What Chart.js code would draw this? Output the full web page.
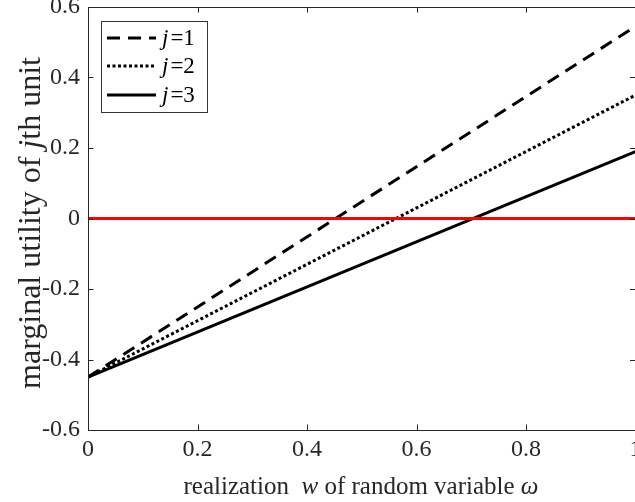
<!DOCTYPE html>
<html><head><meta charset="utf-8">
<script src="https://cdn.jsdelivr.net/npm/chart.js@4"></script>
<style>
html,body{margin:0;padding:0;background:#fff;overflow:hidden;}
#wrap{width:635px;height:502px;overflow:hidden;position:relative;}
#c{position:absolute;left:0;top:0;}
</style></head>
<body><div id="wrap"><canvas id="c" width="640" height="502"></canvas></div>
<script>
const wValues = [0, 1];
const seriesJ1 = [-0.45, 0.545];
const seriesJ2 = [-0.45, 0.35];
const seriesJ3 = [-0.45, 0.19];
const zeroLine = [0, 0];
const seriesNames = ['j=1', 'j=2', 'j=3'];
const xTicks = [0, 0.2, 0.4, 0.6, 0.8, 1];
const yTicks = [-0.6, -0.4, -0.2, 0, 0.2, 0.4, 0.6];

const pts = (arr) => arr.map((v, i) => ({x: wValues[i], y: v}));
const AX = '#262626';
const FAM = "'Liberation Serif', 'Times New Roman', serif";
Chart.defaults.font.family = FAM;
Chart.defaults.font.size = 24;
Chart.defaults.color = AX;

const boxPlugin = {
  id: 'box',
  afterDatasetsDraw(chart) {
    const {ctx, chartArea: a, scales} = chart;
    ctx.save();
    ctx.strokeStyle = AX; ctx.lineWidth = 1;
    ctx.strokeRect(a.left + 0.5, a.top + 0.5, a.right - a.left, a.bottom - a.top);
    const tl = 5.5;
    ctx.beginPath();
    xTicks.forEach(v => {
      const px = Math.round(scales.x.getPixelForValue(v)) + 0.5;
      ctx.moveTo(px, a.bottom); ctx.lineTo(px, a.bottom - tl);
      ctx.moveTo(px, a.top); ctx.lineTo(px, a.top + tl);
    });
    yTicks.forEach(v => {
      const py = Math.round(scales.y.getPixelForValue(v)) + 0.5;
      ctx.moveTo(a.left, py); ctx.lineTo(a.left + tl, py);
      ctx.moveTo(a.right, py); ctx.lineTo(a.right - tl, py);
    });
    ctx.stroke();
    // legend
    const lx = 101, ly = 21, lw = 106, lh = 91;
    ctx.fillStyle = '#fff';
    ctx.fillRect(lx, ly, lw, lh);
    ctx.strokeStyle = '#333'; ctx.lineWidth = 1;
    ctx.strokeRect(lx + 0.5, ly + 0.5, lw, lh);
    const rows = [38, 66, 95];
    chart.data.datasets.slice(0, 3).forEach((ds, i) => {
      const y = rows[i];
      ctx.save();
      ctx.strokeStyle = ds.borderColor; ctx.lineWidth = ds.borderWidth;
      ctx.setLineDash(ds.borderDash || []);
      ctx.beginPath(); ctx.moveTo(107, y); ctx.lineTo(156, y); ctx.stroke();
      ctx.restore();
      const name = seriesNames[i];
      ctx.fillStyle = '#000'; ctx.textBaseline = 'middle'; ctx.textAlign = 'left';
      ctx.font = 'italic 23px ' + FAM;
      ctx.fillText(name[0], 162, y + 1);
      const w = ctx.measureText(name[0]).width;
      ctx.font = '23px ' + FAM;
      ctx.fillText(name.slice(1), 162 + w + 2, y + 1);
    });
    ctx.restore();
  }
};

const titlePlugin = {
  id: 'titles',
  afterDraw(chart) {
    const {ctx} = chart;
    ctx.save();
    ctx.fillStyle = AX; ctx.textBaseline = 'middle';
    const parts = [['realization  ', ''], ['w', 'italic '], [' of random variable ', ''], ['\u03c9', 'italic ']];
    let total = 0;
    parts.forEach(p => { ctx.font = p[1] + '25px ' + FAM; total += ctx.measureText(p[0]).width; });
    let x = 361 - total / 2;
    parts.forEach(p => { ctx.font = p[1] + '25px ' + FAM; ctx.textAlign = 'left'; ctx.fillText(p[0], x, 487); x += ctx.measureText(p[0]).width; });
    ctx.translate(32, 223);
    ctx.rotate(-Math.PI / 2);
    const yp = [['marginal utility of ', ''], ['j', 'italic '], ['th unit', '']];
    total = 0;
    yp.forEach(p => { ctx.font = p[1] + '32px ' + FAM; total += ctx.measureText(p[0]).width; });
    x = -total / 2;
    yp.forEach(p => { ctx.font = p[1] + '32px ' + FAM; ctx.textAlign = 'left'; ctx.fillText(p[0], x, 0); x += ctx.measureText(p[0]).width; });
    ctx.restore();
  }
};

new Chart(document.getElementById('c'), {
  type: 'line',
  data: {
    datasets: [
      {label: seriesNames[0], data: pts(seriesJ1), borderColor: '#000', borderWidth: 3, borderDash: [13, 8], pointRadius: 0, order: 1},
      {label: seriesNames[1], data: pts(seriesJ2), borderColor: '#000', borderWidth: 3, borderDash: [3, 2.5], pointRadius: 0, order: 1},
      {label: seriesNames[2], data: pts(seriesJ3), borderColor: '#000', borderWidth: 3, pointRadius: 0, order: 1},
      {label: 'zero', data: pts(zeroLine), borderColor: '#ff0000', borderWidth: 3, pointRadius: 0, order: 0}
    ]
  },
  options: {
    responsive: false, animation: false,
    layout: {autoPadding: false, padding: {top: 7, right: 4.5, left: 0, bottom: 0}},
    plugins: {legend: {display: false}, tooltip: {enabled: false}},
    scales: {
      x: {type: 'linear', min: 0, max: 1,
        grid: {display: false, drawTicks: false}, border: {display: false},
        afterFit: s => { s.height = 72; s.paddingLeft = 0; s.paddingRight = 0; },
        afterBuildTicks: s => { s.ticks = xTicks.map(v => ({value: v})); },
        ticks: {color: AX, padding: 5, maxRotation: 0, autoSkip: false, font: {family: FAM, size: 24}, callback: v => String(v)}},
      y: {min: -0.6, max: 0.6,
        grid: {display: false, drawTicks: false}, border: {display: false},
        afterFit: s => { s.width = 88; s.paddingTop = 0; s.paddingBottom = 0; },
        afterBuildTicks: s => { s.ticks = yTicks.map(v => ({value: v})); },
        ticks: {color: AX, padding: 8, autoSkip: false, font: {family: FAM, size: 24}, callback: v => String(Math.round(v * 10) / 10)}}
    }
  },
  plugins: [boxPlugin, titlePlugin]
});
</script></body></html>
